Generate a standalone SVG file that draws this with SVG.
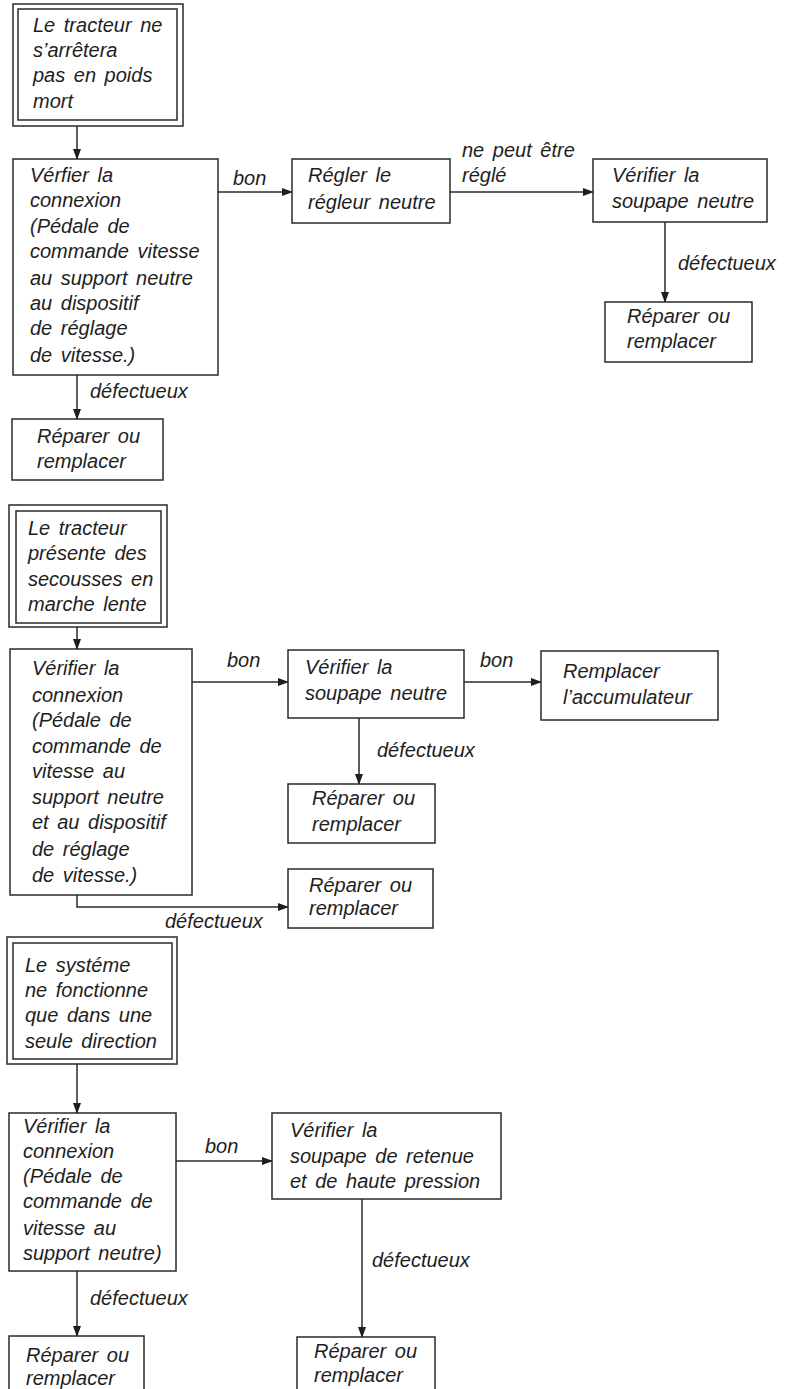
<svg xmlns="http://www.w3.org/2000/svg" width="795" height="1389" viewBox="0 0 795 1389">
<style>
.b{fill:#fff;stroke:#2a2a2a;stroke-width:1.5}
.t{font-family:"Liberation Sans",Arial,sans-serif;font-style:italic;font-size:20px;fill:#1e1e1e;word-spacing:3px}
.c{fill:none;stroke:#2a2a2a;stroke-width:1.5;marker-end:url(#ah)}
</style>
<defs>
<marker id="ah" markerUnits="userSpaceOnUse" markerWidth="11" markerHeight="8" refX="10" refY="4" orient="auto">
<path d="M0,0 L11,4 L0,8 z" fill="#1e1e1e"/>
</marker>
</defs>
<rect width="795" height="1389" fill="#fff"/>

<g id="connectors">
<path class="c" d="M77,126 V159"/>
<path class="c" d="M218,192 H292"/>
<path class="c" d="M450,192 H593"/>
<path class="c" d="M665,222 V302"/>
<path class="c" d="M77,375 V419"/>
<path class="c" d="M77,627 V649"/>
<path class="c" d="M192,682 H288"/>
<path class="c" d="M464,682 H541"/>
<path class="c" d="M359,718 V784"/>
<path class="c" d="M77,895 V907 H288"/>
<path class="c" d="M77,1064 V1113"/>
<path class="c" d="M176,1161 H272"/>
<path class="c" d="M362,1199 V1337"/>
<path class="c" d="M77,1271 V1336"/>
<text class="t" x="233" y="185">bon</text>
<text class="t" x="462" y="157">ne peut être</text>
<text class="t" x="462" y="182">réglé</text>
<text class="t" x="678" y="270">défectueux</text>
<text class="t" x="90" y="398">défectueux</text>
<text class="t" x="227" y="667">bon</text>
<text class="t" x="480" y="667">bon</text>
<text class="t" x="377" y="757">défectueux</text>
<text class="t" x="165" y="928">défectueux</text>
<text class="t" x="205" y="1153">bon</text>
<text class="t" x="372" y="1267">défectueux</text>
<text class="t" x="90" y="1305">défectueux</text>
</g>

<g id="n1">
<rect class="b" x="13" y="4" width="170" height="122"/>
<rect class="b" x="18" y="9" width="159" height="111"/>
<text class="t" x="33" y="32">Le tracteur ne</text>
<text class="t" x="33" y="57">s’arrêtera</text>
<text class="t" x="33" y="82">pas en poids</text>
<text class="t" x="33" y="108">mort</text>
</g>
<g id="n2">
<rect class="b" x="13" y="159" width="205" height="216"/>
<text class="t" x="30" y="182">Vérfier la</text>
<text class="t" x="30" y="207">connexion</text>
<text class="t" x="30" y="233">(Pédale de</text>
<text class="t" x="30" y="258">commande vitesse</text>
<text class="t" x="30" y="285">au support neutre</text>
<text class="t" x="30" y="310">au dispositif</text>
<text class="t" x="30" y="335">de réglage</text>
<text class="t" x="30" y="362">de vitesse.)</text>
</g>
<g id="n3">
<rect class="b" x="12" y="419" width="151" height="61"/>
<text class="t" x="37" y="443">Réparer ou</text>
<text class="t" x="37" y="468">remplacer</text>
</g>
<g id="n4">
<rect class="b" x="292" y="159" width="158" height="64"/>
<text class="t" x="308" y="182">Régler le</text>
<text class="t" x="308" y="209">régleur neutre</text>
</g>
<g id="n5">
<rect class="b" x="593" y="159" width="174" height="63"/>
<text class="t" x="612" y="182">Vérifier la</text>
<text class="t" x="612" y="208">soupape neutre</text>
</g>
<g id="n6">
<rect class="b" x="605" y="302" width="147" height="60"/>
<text class="t" x="627" y="323">Réparer ou</text>
<text class="t" x="627" y="348">remplacer</text>
</g>

<g id="n7">
<rect class="b" x="9" y="505" width="158" height="122"/>
<rect class="b" x="16" y="511" width="145" height="112"/>
<text class="t" x="28" y="535">Le tracteur</text>
<text class="t" x="28" y="560">présente des</text>
<text class="t" x="28" y="586">secousses en</text>
<text class="t" x="28" y="611">marche lente</text>
</g>
<g id="n8">
<rect class="b" x="10" y="649" width="182" height="246"/>
<text class="t" x="32" y="675">Vérifier la</text>
<text class="t" x="32" y="702">connexion</text>
<text class="t" x="32" y="727">(Pédale de</text>
<text class="t" x="32" y="753">commande de</text>
<text class="t" x="32" y="778">vitesse au</text>
<text class="t" x="32" y="804">support neutre</text>
<text class="t" x="32" y="829">et au dispositif</text>
<text class="t" x="32" y="856">de réglage</text>
<text class="t" x="32" y="882">de vitesse.)</text>
</g>
<g id="n9">
<rect class="b" x="288" y="650" width="176" height="68"/>
<text class="t" x="305" y="674">Vérifier la</text>
<text class="t" x="305" y="700">soupape neutre</text>
</g>
<g id="n10">
<rect class="b" x="541" y="651" width="177" height="69"/>
<text class="t" x="563" y="678">Remplacer</text>
<text class="t" x="563" y="704">l’accumulateur</text>
</g>
<g id="n11">
<rect class="b" x="288" y="784" width="147" height="59"/>
<text class="t" x="312" y="805">Réparer ou</text>
<text class="t" x="312" y="831">remplacer</text>
</g>
<g id="n12">
<rect class="b" x="288" y="869" width="145" height="59"/>
<text class="t" x="309" y="892">Réparer ou</text>
<text class="t" x="309" y="915">remplacer</text>
</g>

<g id="n13">
<rect class="b" x="7" y="937" width="170" height="127"/>
<rect class="b" x="13" y="943" width="159" height="116"/>
<text class="t" x="25" y="972">Le systéme</text>
<text class="t" x="25" y="997">ne fonctionne</text>
<text class="t" x="25" y="1022">que dans une</text>
<text class="t" x="25" y="1048">seule direction</text>
</g>
<g id="n14">
<rect class="b" x="9" y="1113" width="167" height="158"/>
<text class="t" x="23" y="1133">Vérifier la</text>
<text class="t" x="23" y="1158">connexion</text>
<text class="t" x="23" y="1183">(Pédale de</text>
<text class="t" x="23" y="1208">commande de</text>
<text class="t" x="23" y="1235">vitesse au</text>
<text class="t" x="23" y="1260">support neutre)</text>
</g>
<g id="n15">
<rect class="b" x="272" y="1113" width="229" height="86"/>
<text class="t" x="290" y="1137">Vérifier la</text>
<text class="t" x="290" y="1163">soupape de retenue</text>
<text class="t" x="290" y="1188">et de haute pression</text>
</g>
<g id="n16">
<rect class="b" x="9" y="1336" width="135" height="70"/>
<text class="t" x="26" y="1362">Réparer ou</text>
<text class="t" x="26" y="1385">remplacer</text>
</g>
<g id="n17">
<rect class="b" x="297" y="1337" width="138" height="70"/>
<text class="t" x="314" y="1358">Réparer ou</text>
<text class="t" x="314" y="1382">remplacer</text>
</g>
</svg>
